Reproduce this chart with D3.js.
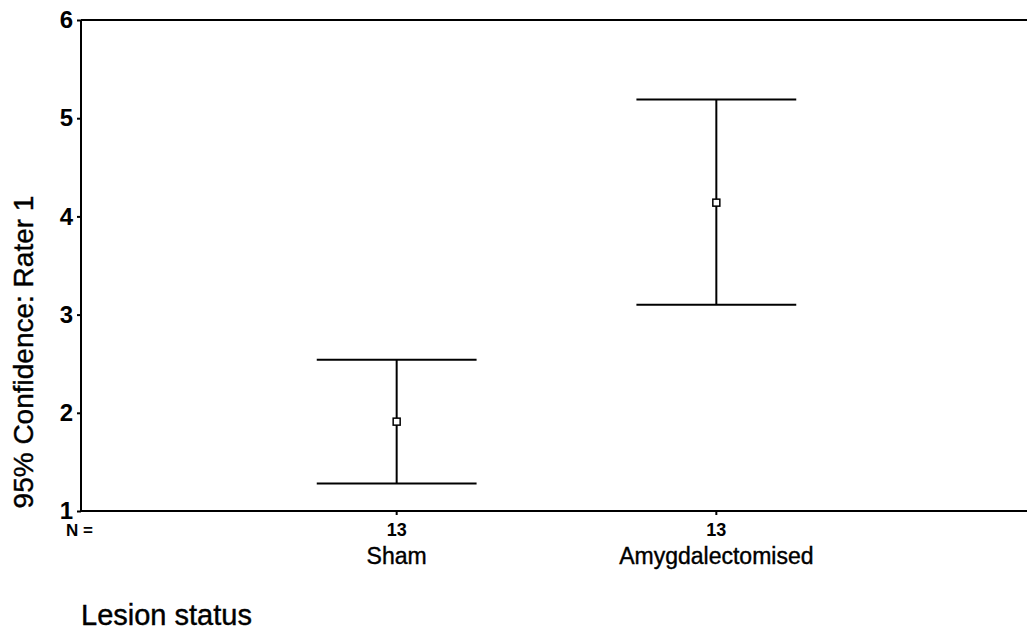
<!DOCTYPE html>
<html>
<head>
<meta charset="utf-8">
<script src="https://cdn.jsdelivr.net/npm/d3@7"></script>
<style>
  html, body { margin: 0; padding: 0; background: #fff; }
  svg { display: block; font-family: "Liberation Sans", Arial, sans-serif; }
  .heavy { stroke: #000; stroke-width: 0.4px; }
</style>
</head>
<body>
<svg id="chart" width="1027" height="633"></svg>
<script>
// Lesion groups and their 95% confidence intervals for Rater 1
const categories = ["Sham", "Amygdalectomised"];
const groupN = [13, 13];
const means = [1.91, 4.14];
const lowerCI = [1.28, 3.10];
const upperCI = [2.54, 5.19];
const yTicks = [1, 2, 3, 4, 5, 6];

const svg = d3.select("#chart");
const plotLeft = 81, plotTop = 20, plotBottom = 511, plotRight = 1027;

// Category slots: index 1 and 2 hold the groups, 0 and 3 are padding
const x = d3.scaleLinear().domain([0, 3]).range([77, 1036]);
const y = d3.scaleLinear().domain([1, 6]).range([plotBottom, plotTop]);
const capHalf = 0.25;

// Frame: top rule runs to the page edge
svg.append("line").attr("x1", plotLeft).attr("x2", plotRight).attr("y1", plotTop).attr("y2", plotTop)
  .attr("stroke", "#000").attr("stroke-width", 2);

// Y axis
const yAxis = d3.axisLeft(y).tickValues(yTicks).tickSize(4).tickPadding(4).tickFormat(d3.format("d"));
const gy = svg.append("g").attr("transform", `translate(${plotLeft},0)`).call(yAxis);
gy.attr("font-size", null).attr("font-family", null);
gy.select(".domain").attr("stroke-width", 2).attr("d", `M0,${plotBottom}V${plotTop}`);
gy.selectAll(".tick line").attr("stroke-width", 2);
gy.selectAll(".tick text").style("font-size", "24px").style("font-weight", "bold").attr("fill", "#000");

// X axis (baseline with small ticks at each group)
const gx = svg.append("g").attr("transform", `translate(0,${plotBottom})`);
gx.append("line").attr("x1", plotLeft).attr("x2", plotRight).attr("stroke", "#000").attr("stroke-width", 2);
gx.selectAll("line.tk").data(categories).join("line").attr("class", "tk")
  .attr("x1", (d, i) => x(i + 1)).attr("x2", (d, i) => x(i + 1))
  .attr("y1", 0).attr("y2", 4).attr("stroke", "#000").attr("stroke-width", 2);

// N counts
svg.append("text").attr("x", 66).attr("y", 536).style("font-size", "17px").style("font-weight", "bold")
  .text("N =");
svg.selectAll("text.n").data(groupN).join("text").attr("class", "n")
  .attr("x", (d, i) => x(i + 1)).attr("y", 536).attr("text-anchor", "middle")
  .style("font-size", "18px").style("font-weight", "bold").text(d => d);

// Category names
svg.selectAll("text.cat").data(categories).join("text").attr("class", "cat heavy")
  .attr("x", (d, i) => x(i + 1)).attr("y", 564).attr("text-anchor", "middle")
  .style("font-size", "23px").text(d => d);

// Axis titles
svg.append("text").attr("class", "heavy").attr("x", 81).attr("y", 625)
  .style("font-size", "29px").text("Lesion status");
svg.append("text").attr("class", "heavy").attr("transform", "translate(33,352) rotate(-90)")
  .attr("text-anchor", "middle").style("font-size", "28px").text("95% Confidence: Rater 1");

// Error bars
const g = svg.append("g").attr("stroke", "#000").attr("stroke-width", 2).attr("fill", "none");
categories.forEach((c, i) => {
  const cx = x(i + 1);
  g.append("line").attr("x1", cx).attr("x2", cx).attr("y1", y(lowerCI[i])).attr("y2", y(upperCI[i]));
  g.append("line").attr("x1", x(i + 1 - capHalf)).attr("x2", x(i + 1 + capHalf))
    .attr("y1", y(upperCI[i])).attr("y2", y(upperCI[i]));
  g.append("line").attr("x1", x(i + 1 - capHalf)).attr("x2", x(i + 1 + capHalf))
    .attr("y1", y(lowerCI[i])).attr("y2", y(lowerCI[i]));
  g.append("rect").attr("x", cx - 3.5).attr("y", y(means[i]) - 3.5).attr("width", 7).attr("height", 7)
    .attr("fill", "#fff").attr("stroke-width", 1.5);
});
</script>
</body>
</html>
